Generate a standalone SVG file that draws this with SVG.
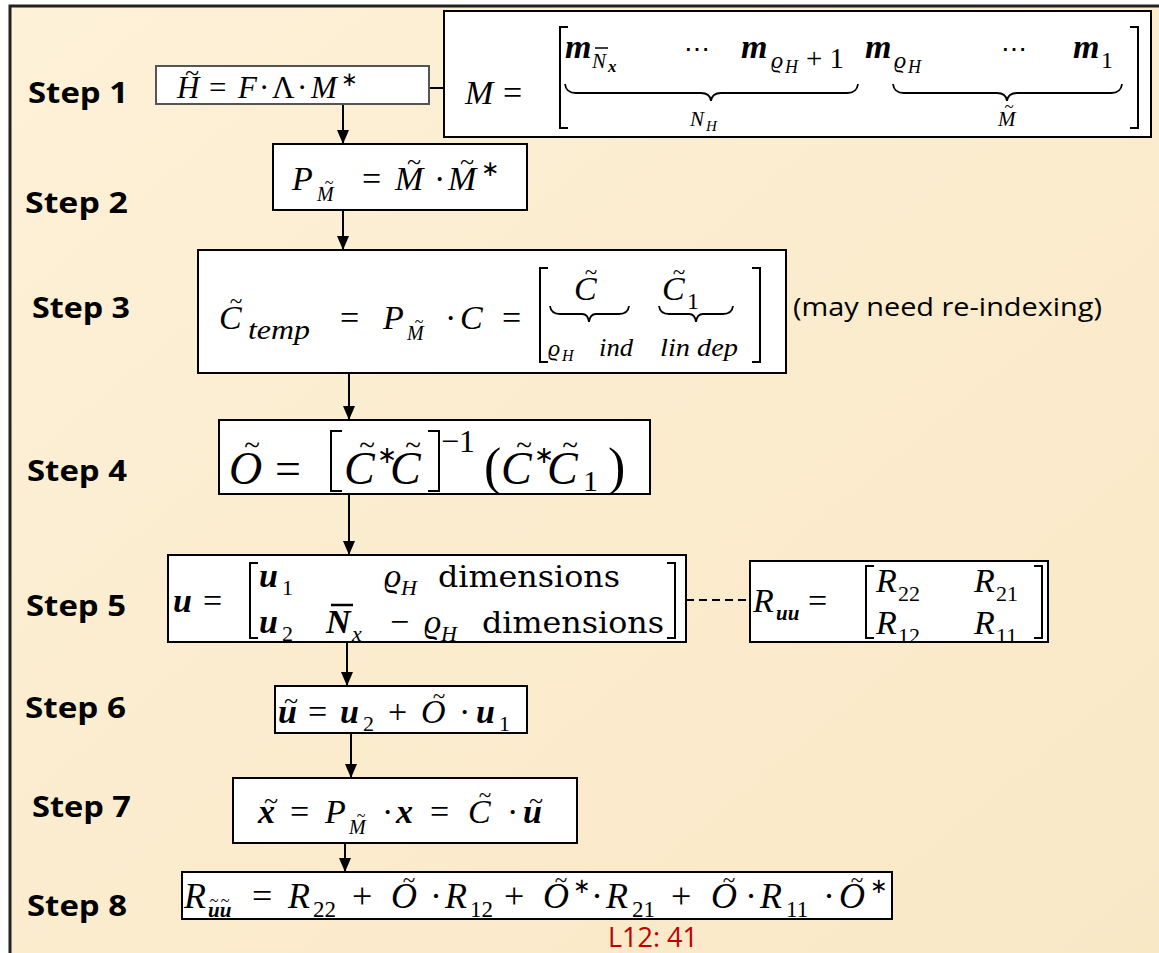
<svg xmlns="http://www.w3.org/2000/svg" width="1159" height="953" viewBox="0 0 1159 953">
<defs>
<linearGradient id="parch" x1="0" y1="0" x2="1" y2="1">
<stop offset="0" stop-color="#FDF1D8"/>
<stop offset="0.5" stop-color="#FBECCE"/>
<stop offset="1" stop-color="#F9E8C6"/>
</linearGradient>
<marker id="ah" viewBox="0 0 14 12" refX="14" refY="6" markerWidth="14" markerHeight="12" markerUnits="userSpaceOnUse" orient="auto">
<path d="M0,0 L14,6 L0,12 Z" fill="#000"/>
</marker>
<style>
.box{fill:#fff;stroke:#000;stroke-width:2}
.box1{fill:#fff;stroke:#555;stroke-width:2}
.st{font-family:"Open Sans","Noto Sans",sans-serif;font-weight:bold;font-size:29px;fill:#000}
.note{font-family:"Open Sans","Noto Sans",sans-serif;font-size:26px;fill:#000}
.mi{font-family:"Liberation Serif",serif;font-style:italic;fill:#000}
.mu{font-family:"Liberation Serif",serif;fill:#000}
.mb{font-family:"Liberation Serif",serif;font-style:italic;font-weight:bold;fill:#000}
.dt{font-family:"DejaVu Serif",serif;fill:#000}
.t{font-style:normal;font-weight:normal}
.br{fill:none;stroke:#000;stroke-width:2}
.ub{fill:none;stroke:#000;stroke-width:1.8}
.conn{fill:none;stroke:#000;stroke-width:2}
.ref{font-family:"Open Sans","Noto Sans",sans-serif;font-size:27px;fill:#C00000}
</style>
</defs>
<rect x="0" y="0" width="1159" height="953" fill="#fff"/>
<rect x="10" y="6" width="1160" height="960" fill="url(#parch)" stroke="#222" stroke-width="3"/>

<g id="labels">
<text class="st" x="28" y="103" textLength="100" lengthAdjust="spacingAndGlyphs">Step 1</text>
<text class="st" x="25" y="213" textLength="103" lengthAdjust="spacingAndGlyphs">Step 2</text>
<text class="st" x="32" y="318" textLength="98" lengthAdjust="spacingAndGlyphs">Step 3</text>
<text class="st" x="27" y="481" textLength="100" lengthAdjust="spacingAndGlyphs">Step 4</text>
<text class="st" x="26" y="616" textLength="100" lengthAdjust="spacingAndGlyphs">Step 5</text>
<text class="st" x="25" y="718" textLength="101" lengthAdjust="spacingAndGlyphs">Step 6</text>
<text class="st" x="32" y="817" textLength="99" lengthAdjust="spacingAndGlyphs">Step 7</text>
<text class="st" x="27" y="916" textLength="100" lengthAdjust="spacingAndGlyphs">Step 8</text>
</g>

<g id="connectors">
<line class="conn" x1="343" y1="104" x2="343" y2="144" marker-end="url(#ah)"/>
<line class="conn" x1="343" y1="210" x2="343" y2="250" marker-end="url(#ah)"/>
<line class="conn" x1="349" y1="373" x2="349" y2="420" marker-end="url(#ah)"/>
<line class="conn" x1="349" y1="494" x2="349" y2="555" marker-end="url(#ah)"/>
<line class="conn" x1="347" y1="642" x2="347" y2="686" marker-end="url(#ah)"/>
<line class="conn" x1="351" y1="733" x2="351" y2="778" marker-end="url(#ah)"/>
<line class="conn" x1="345" y1="843" x2="345" y2="872" marker-end="url(#ah)"/>
<line class="conn" x1="429" y1="88" x2="444" y2="88"/>
<line class="conn" x1="686" y1="600" x2="750" y2="600" stroke-dasharray="8,5"/>
</g>

<g id="step1">
<rect class="box1" x="156" y="66" width="273" height="38"/>
<text class="mi" x="177" y="98" font-size="31">H<tspan class="t" x="185" y="81" font-size="26">~</tspan></text>
<text class="mu" x="209" y="98" font-size="31">=</text>
<text class="mi" x="238" y="98" font-size="31">F</text>
<text class="mu" x="259" y="98" font-size="31">·</text>
<text class="mu" x="272" y="98" font-size="31">Λ</text>
<text class="mu" x="297" y="98" font-size="31">·</text>
<text class="mi" x="311" y="98" font-size="31">M</text>
<text class="mu" x="341" y="86" font-size="20">∗</text>
</g>

<g id="mdef">
<rect class="box" x="444" y="11" width="707" height="126"/>
<text class="mi" x="465" y="104" font-size="34">M</text>
<text class="mu" x="503" y="104" font-size="34">=</text>
<path class="br" d="M568,27 H560 V128 H568"/>
<path class="br" d="M1130,27 H1138 V128 H1130"/>
<text class="mb" x="565" y="58" font-size="34">m</text>
<text class="mi" x="592" y="68" font-size="21">N</text>
<line x1="595" y1="48" x2="608" y2="48" stroke="#000" stroke-width="1.5"/>
<text class="mb" x="608" y="72" font-size="17">x</text>
<text class="dt" x="684" y="58" font-size="26">⋯</text>
<text class="mb" x="741" y="58" font-size="34">m</text>
<text class="mi" x="771" y="68" font-size="24">ϱ</text>
<text class="mi" x="785" y="73" font-size="18">H</text>
<text class="mu" x="806" y="68" font-size="29" textLength="38" lengthAdjust="spacing">+1</text>
<text class="mb" x="865" y="58" font-size="34">m</text>
<text class="mi" x="894" y="68" font-size="24">ϱ</text>
<text class="mi" x="908" y="73" font-size="18">H</text>
<text class="dt" x="1001" y="58" font-size="26">⋯</text>
<text class="mb" x="1073" y="58" font-size="34">m</text>
<text class="mu" x="1101" y="68" font-size="24">1</text>
<path class="ub" d="M565,84 Q566,93 576,93 L701,93 Q710,93 711,101 Q712,93 721,93 L847,93 Q857,93 858,84"/>
<path class="ub" d="M893,84 Q894,93 904,93 L997,93 Q1006,93 1007,101 Q1008,93 1017,93 L1111,93 Q1121,93 1122,84"/>
<text class="mi" x="690" y="126" font-size="21">N</text>
<text class="mi" x="706" y="131" font-size="15">H</text>
<text class="mi" x="998" y="126" font-size="21">M<tspan class="t" x="1004.4" y="112" font-size="17">~</tspan></text>
</g>

<g id="step2">
<rect class="box" x="273" y="144" width="254" height="66"/>
<text class="mi" x="292" y="190" font-size="34">P</text>
<text class="mi" x="317" y="201" font-size="20">M<tspan class="t" x="324.7" y="188" font-size="16">~</tspan></text>
<text class="mu" x="362" y="190" font-size="34">=</text>
<text class="mi" x="395" y="190" font-size="34">M<tspan class="t" x="407" y="170" font-size="26">~</tspan></text>
<text class="mu" x="434" y="190" font-size="34">·</text>
<text class="mi" x="448" y="190" font-size="34">M<tspan class="t" x="460" y="170" font-size="26">~</tspan></text>
<text class="mu" x="481" y="176" font-size="22">∗</text>
</g>

<g id="step3">
<rect class="box" x="198" y="250" width="588" height="123"/>
<text class="mi" x="219" y="329" font-size="34">C<tspan class="t" x="229.8" y="309" font-size="23">~</tspan></text>
<text class="mi" x="248" y="339" font-size="28" textLength="62" lengthAdjust="spacingAndGlyphs">temp</text>
<text class="mu" x="340" y="329" font-size="34">=</text>
<text class="mi" x="383" y="329" font-size="34">P</text>
<text class="mi" x="407" y="340" font-size="20">M<tspan class="t" x="414.7" y="327" font-size="16">~</tspan></text>
<text class="mu" x="445" y="329" font-size="34">·</text>
<text class="mi" x="460" y="329" font-size="34">C</text>
<text class="mu" x="502" y="329" font-size="34">=</text>
<path class="br" d="M548,268 H540 V362 H548"/>
<path class="br" d="M752,268 H760 V362 H752"/>
<text class="mi" x="574" y="300" font-size="34">C<tspan class="t" x="584.8" y="280" font-size="23">~</tspan></text>
<path class="ub" d="M550,306 Q551,314 560,314 L582,314 Q588,314 589,322 Q590,314 596,314 L619,314 Q628,314 629,306"/>
<text class="mi" x="548" y="356" font-size="24">ϱ</text>
<text class="mi" x="562" y="361" font-size="16">H</text>
<text class="mi" x="599" y="356" font-size="26" textLength="34" lengthAdjust="spacingAndGlyphs">ind</text>
<text class="mi" x="662" y="300" font-size="34">C<tspan class="t" x="672.8" y="280" font-size="23">~</tspan></text>
<text class="mu" x="687" y="309" font-size="24">1</text>
<path class="ub" d="M659,306 Q660,314 669,314 L689,314 Q695,314 696,322 Q697,314 703,314 L723,314 Q732,314 733,306"/>
<text class="mi" x="660" y="356" font-size="26" textLength="78" lengthAdjust="spacingAndGlyphs">lin dep</text>
</g>
<text class="note" x="793" y="316" textLength="309" lengthAdjust="spacingAndGlyphs">(may need re-indexing)</text>

<g id="step4">
<rect class="box" x="219" y="420" width="431" height="74"/>
<text class="mi" x="229" y="484" font-size="46">O<tspan class="t" x="244.2" y="455" font-size="29">~</tspan></text>
<text class="mu" x="275" y="484" font-size="46">=</text>
<path class="br" d="M342,431 H331 V491 H342"/>
<text class="mi" x="344" y="484" font-size="46">C<tspan class="t" x="359.2" y="455" font-size="29">~</tspan></text>
<text class="mu" x="377" y="463" font-size="24">∗</text>
<text class="mi" x="390" y="484" font-size="46">C<tspan class="t" x="405.2" y="455" font-size="29">~</tspan></text>
<path class="br" d="M428,431 H439 V491 H428"/>
<text class="mu" x="441" y="452" font-size="32">−1</text>
<text class="mu" x="484" y="484" font-size="52">(</text>
<text class="mi" x="501" y="484" font-size="46">C<tspan class="t" x="516.2" y="455" font-size="29">~</tspan></text>
<text class="mu" x="534" y="463" font-size="24">∗</text>
<text class="mi" x="547" y="484" font-size="46">C<tspan class="t" x="562.2" y="455" font-size="29">~</tspan></text>
<text class="mu" x="583" y="491" font-size="30">1</text>
<text class="mu" x="608" y="484" font-size="52">)</text>
</g>

<g id="step5">
<rect class="box" x="168" y="555" width="518" height="87"/>
<text class="mb" x="173" y="612" font-size="34">u</text>
<text class="mu" x="203" y="612" font-size="34">=</text>
<path class="br" d="M258,563 H250 V638 H258"/>
<path class="br" d="M667,563 H675 V638 H667"/>
<text class="mb" x="259" y="587" font-size="34">u</text>
<text class="mu" x="282" y="595" font-size="22">1</text>
<text class="mi" x="384" y="587" font-size="34">ϱ</text>
<text class="mi" x="401" y="595" font-size="22">H</text>
<text class="dt" x="438" y="587" font-size="30" textLength="182" lengthAdjust="spacingAndGlyphs">dimensions</text>
<text class="mb" x="259" y="633" font-size="34">u</text>
<text class="mu" x="282" y="641" font-size="22">2</text>
<text class="mb" x="326" y="633" font-size="34">N</text>
<line x1="331" y1="605" x2="353" y2="605" stroke="#000" stroke-width="2.5"/>
<text class="mi" x="352" y="641" font-size="22">x</text>
<text class="mu" x="390" y="633" font-size="34">−</text>
<text class="mi" x="424" y="633" font-size="34">ϱ</text>
<text class="mi" x="441" y="641" font-size="22">H</text>
<text class="dt" x="482" y="633" font-size="30" textLength="182" lengthAdjust="spacingAndGlyphs">dimensions</text>
</g>

<g id="ruu">
<rect class="box" x="750" y="561" width="298" height="81"/>
<text class="mi" x="753" y="612" font-size="34">R</text>
<text class="mb" x="776" y="620" font-size="21">uu</text>
<text class="mu" x="808" y="612" font-size="34">=</text>
<path class="br" d="M874,566 H866 V638 H874"/>
<path class="br" d="M1034,566 H1042 V638 H1034"/>
<text class="mi" x="876" y="592" font-size="34">R</text>
<text class="mu" x="898" y="601" font-size="22">22</text>
<text class="mi" x="974" y="592" font-size="34">R</text>
<text class="mu" x="996" y="601" font-size="22">21</text>
<text class="mi" x="876" y="634" font-size="34">R</text>
<text class="mu" x="898" y="643" font-size="22">12</text>
<text class="mi" x="974" y="634" font-size="34">R</text>
<text class="mu" x="996" y="643" font-size="22">11</text>
</g>

<g id="step6">
<rect class="box" x="275" y="686" width="252" height="47"/>
<text class="mb" x="278" y="723" font-size="34">u<tspan class="t" x="284" y="709" font-size="26">~</tspan></text>
<text class="mu" x="308" y="723" font-size="34">=</text>
<text class="mb" x="340" y="723" font-size="34">u</text>
<text class="mu" x="363" y="731" font-size="22">2</text>
<text class="mu" x="388" y="723" font-size="34">+</text>
<text class="mi" x="421" y="723" font-size="34">O<tspan class="t" x="432.8" y="704" font-size="23">~</tspan></text>
<text class="mu" x="459" y="723" font-size="34">·</text>
<text class="mb" x="476" y="723" font-size="34">u</text>
<text class="mu" x="499" y="731" font-size="22">1</text>
</g>

<g id="step7">
<rect class="box" x="233" y="778" width="344" height="65"/>
<text class="mb" x="258" y="823" font-size="34">x<tspan class="t" x="264" y="809" font-size="26">~</tspan></text>
<text class="mu" x="290" y="823" font-size="34">=</text>
<text class="mi" x="325" y="823" font-size="34">P</text>
<text class="mi" x="349" y="834" font-size="20">M<tspan class="t" x="356.7" y="821" font-size="16">~</tspan></text>
<text class="mu" x="382" y="823" font-size="34">·</text>
<text class="mb" x="396" y="823" font-size="34">x</text>
<text class="mu" x="430" y="823" font-size="34">=</text>
<text class="mi" x="468" y="823" font-size="34">C<tspan class="t" x="478.8" y="803" font-size="23">~</tspan></text>
<text class="mu" x="507" y="823" font-size="34">·</text>
<text class="mb" x="523" y="823" font-size="34">u<tspan class="t" x="529" y="809" font-size="26">~</tspan></text>
</g>

<g id="step8">
<rect class="box" x="182" y="872" width="710" height="47"/>
<text class="mi" x="184" y="908" font-size="36">R</text>
<text class="mb" x="208" y="917" font-size="21">uu<tspan class="t" x="209.7 220.7" y="906" font-size="16">~~</tspan></text>
<text class="mu" x="252" y="908" font-size="36">=</text>
<text class="mi" x="288" y="908" font-size="36">R</text>
<text class="mu" x="313" y="917" font-size="23">22</text>
<text class="mu" x="352" y="908" font-size="36">+</text>
<text class="mi" x="391" y="908" font-size="36">O<tspan class="t" x="402.8" y="888" font-size="23">~</tspan></text>
<text class="mu" x="430" y="908" font-size="36">·</text>
<text class="mi" x="445" y="908" font-size="36">R</text>
<text class="mu" x="470" y="917" font-size="23">12</text>
<text class="mu" x="504" y="908" font-size="36">+</text>
<text class="mi" x="543" y="908" font-size="36">O<tspan class="t" x="554.8" y="888" font-size="23">~</tspan></text>
<text class="mu" x="573" y="893" font-size="21">∗</text>
<text class="mu" x="591" y="908" font-size="36">·</text>
<text class="mi" x="606" y="908" font-size="36">R</text>
<text class="mu" x="632" y="917" font-size="23">21</text>
<text class="mu" x="671" y="908" font-size="36">+</text>
<text class="mi" x="711" y="908" font-size="36">O<tspan class="t" x="722.8" y="888" font-size="23">~</tspan></text>
<text class="mu" x="745" y="908" font-size="36">·</text>
<text class="mi" x="760" y="908" font-size="36">R</text>
<text class="mu" x="786" y="917" font-size="23">11</text>
<text class="mu" x="823" y="908" font-size="36">·</text>
<text class="mi" x="839" y="908" font-size="36">O<tspan class="t" x="850.8" y="888" font-size="23">~</tspan></text>
<text class="mu" x="870" y="893" font-size="21">∗</text>
</g>

<text class="ref" x="608" y="947" textLength="90" lengthAdjust="spacingAndGlyphs">L12: 41</text>
</svg>
